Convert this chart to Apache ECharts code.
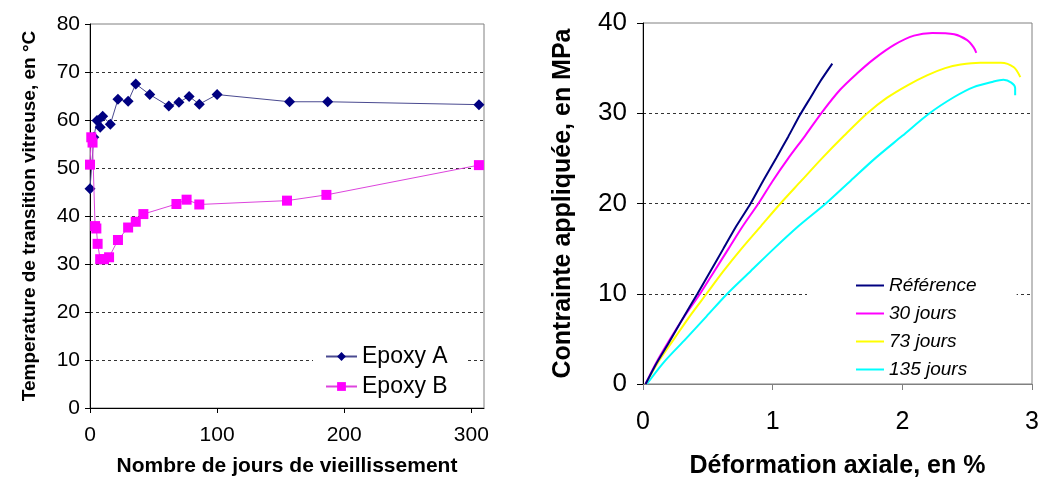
<!DOCTYPE html>
<html>
<head>
<meta charset="utf-8">
<script src="https://cdn.jsdelivr.net/npm/echarts@6/dist/echarts.min.js"></script>
<style>
    html, body { margin: 0; padding: 0; background: #fff; }
    #chart { width: 1047px; height: 478px; }
</style>
</head>
<body>
<div id="chart"></div>
<script>
// ---- left chart : Tg vs ageing days ----
const daysTicks = [0, 100, 200, 300];
const epoxyADays = [0, 3, 5.5, 8, 10, 16, 22, 30, 36, 47, 62, 70, 78, 86, 100, 157, 187, 306];
const epoxyATg = [45.7, 56.4, 59.9, 58.5, 60.8, 59.1, 64.3, 63.9, 67.5, 65.3, 62.9, 63.7, 64.9, 63.3, 65.3, 63.8, 63.8, 63.2];
const epoxyBDays = [0, 1, 2, 4, 5, 6, 8, 11, 15, 22, 30, 36, 42, 68, 76, 86, 155, 186, 306];
const epoxyBTg = [50.7, 56.4, 55.3, 37.9, 37.4, 34.2, 31.0, 31.0, 31.4, 35.0, 37.6, 38.8, 40.4, 42.5, 43.4, 42.4, 43.2, 44.4, 50.6];

// ---- right chart : stress / strain ----
const refStrain = [0.02, 0.1, 0.2, 0.3, 0.42, 0.52, 0.62, 0.72, 0.83, 0.93, 1.03, 1.12, 1.21, 1.29, 1.37, 1.46];
const refStress = [0, 2.2, 4.6, 7.1, 10, 12.5, 15, 17.5, 20, 22.6, 25.1, 27.4, 29.8, 31.7, 33.6, 35.5];
const j30Strain = [0.02, 0.1, 0.21, 0.32, 0.44, 0.55, 0.66, 0.77, 0.89, 1.0, 1.12, 1.25, 1.38, 1.52, 1.65, 1.78, 1.94, 2.09, 2.23, 2.4, 2.5, 2.55, 2.57];
const j30Stress = [0, 2.3, 5, 7.5, 10, 12.5, 15, 17.5, 20, 22.5, 25, 27.5, 30.1, 32.6, 34.4, 36.0, 37.6, 38.6, 38.9, 38.75, 38.1, 37.3, 36.7];
const j73Strain = [0.02, 0.12, 0.24, 0.36, 0.49, 0.62, 0.76, 0.91, 1.06, 1.22, 1.38, 1.55, 1.73, 1.88, 2.04, 2.19, 2.33, 2.45, 2.6, 2.76, 2.86, 2.91];
const j73Stress = [0, 2.5, 5, 7.5, 10, 12.5, 15, 17.5, 20, 22.5, 25, 27.5, 30, 31.7, 33.1, 34.2, 35.0, 35.4, 35.6, 35.6, 35.1, 34.0];
const j135Strain = [0.03, 0.16, 0.33, 0.49, 0.65, 0.83, 1.01, 1.2, 1.41, 1.6, 1.79, 2.0, 2.21, 2.4, 2.55, 2.7, 2.78, 2.84, 2.87, 2.87];
const j135Stress = [0, 2.4, 5, 7.5, 10, 12.5, 15, 17.5, 20, 22.5, 25, 27.5, 30, 31.8, 32.9, 33.5, 33.7, 33.4, 32.8, 32.0];

const zip = (xs, ys) => xs.map((x, i) => [x, ys[i]]);

const font = 'Liberation Sans, Arial, sans-serif';
const dash = [3, 3];

const chart = echarts.init(document.getElementById('chart'), null, { renderer: 'canvas' });

const option = {
    animation: false,
    backgroundColor: '#fff',
    textStyle: { fontFamily: font, color: '#000' },
    grid: [
        { left: 90, top: 24, width: 394, height: 384, outerBoundsMode: 'none', show: true, borderColor: '#808080', borderWidth: 1 },
        { left: 643, top: 23, width: 389, height: 361, outerBoundsMode: 'none', show: true, borderColor: '#808080', borderWidth: 1 }
    ],
    legend: [
        {
            orient: 'vertical',
            left: 313, top: 341,
            backgroundColor: '#fff',
            padding: [4, 18, 2, 12],
            itemWidth: 31, itemHeight: 11, itemGap: 7,
            textStyle: { fontSize: 23, color: '#000', fontFamily: font },
            data: ['Epoxy A', 'Epoxy B']
        },
        {
            orient: 'vertical',
            left: 807, top: 270,
            backgroundColor: '#fff',
            padding: [6, 40, 1, 48],
            itemWidth: 28, itemHeight: 8, itemGap: 9,
            itemStyle: { opacity: 0 },
            textStyle: { fontSize: 19, fontStyle: 'italic', color: '#000', fontFamily: font },
            data: ['Référence', '30 jours', '73 jours', '135 jours']
        }
    ],
    xAxis: [
        {
            gridIndex: 0, type: 'value', min: 0, max: 310,
            name: 'Nombre de jours de vieillissement',
            nameLocation: 'middle', nameGap: 48,
            nameTextStyle: { fontSize: 21, fontWeight: 'bold', color: '#000' },
            axisLine: { lineStyle: { color: '#000' } },
            axisTick: { show: true, length: 5, customValues: daysTicks, lineStyle: { color: '#000' } },
            axisLabel: { fontSize: 21, color: '#000', margin: 17, customValues: daysTicks },
            splitLine: { show: false }
        },
        {
            gridIndex: 1, type: 'value', min: 0, max: 3, interval: 1,
            name: 'Déformation axiale, en %',
            nameLocation: 'middle', nameGap: 70,
            nameTextStyle: { fontSize: 25, fontWeight: 'bold', color: '#000' },
            axisLine: { lineStyle: { color: '#808080' } },
            axisTick: { show: true, length: 6, lineStyle: { color: '#808080' } },
            axisLabel: { fontSize: 25, color: '#000', margin: 26 },
            splitLine: { show: false }
        }
    ],
    yAxis: [
        {
            gridIndex: 0, type: 'value', min: 0, max: 80, interval: 10,
            name: 'Temperature de transition vitreuse, en °C',
            nameLocation: 'middle', nameGap: 51,
            nameTextStyle: { fontSize: 19, fontWeight: 'bold', color: '#000' },
            axisLine: { show: true, lineStyle: { color: '#000' } },
            axisTick: { show: true, length: 5, lineStyle: { color: '#000' } },
            axisLabel: { fontSize: 21, color: '#000', margin: 10 },
            splitLine: {
                show: true,
                lineStyle: {
                    type: dash, width: 1,
                    color: ['transparent', '#333', '#333', '#333', '#333', '#333', '#333', '#333', 'transparent']
                }
            }
        },
        {
            gridIndex: 1, type: 'value', min: 0, max: 40, interval: 10,
            name: 'Contrainte appliquée, en MPa',
            nameLocation: 'middle', nameGap: 67,
            nameTextStyle: { fontSize: 25, fontWeight: 'bold', color: '#000' },
            axisLine: { show: true, lineStyle: { color: '#000' } },
            axisTick: { show: true, length: 6, lineStyle: { color: '#000' } },
            axisLabel: { fontSize: 26, color: '#000', margin: 16 },
            splitLine: {
                show: true,
                lineStyle: {
                    type: dash, width: 1,
                    color: ['transparent', '#333', '#333', '#333', 'transparent']
                }
            }
        }
    ],
    series: [
        {
            name: 'Epoxy A', type: 'line', xAxisIndex: 0, yAxisIndex: 0,
            data: zip(epoxyADays, epoxyATg),
            symbol: 'diamond', symbolSize: 11,
            itemStyle: { color: '#000080' },
            lineStyle: { color: '#4a4a90', width: 1 },
            z: 3
        },
        {
            name: 'Epoxy B', type: 'line', xAxisIndex: 0, yAxisIndex: 0,
            data: zip(epoxyBDays, epoxyBTg),
            symbol: 'rect', symbolSize: 10,
            itemStyle: { color: '#ff00ff' },
            lineStyle: { color: '#dd44dd', width: 1 },
            z: 4
        },
        {
            name: 'Référence', type: 'line', xAxisIndex: 1, yAxisIndex: 1,
            data: zip(refStrain, refStress), symbol: 'none', smooth: 0.2,
            lineStyle: { color: '#000080', width: 2 }, itemStyle: { color: '#000080' }, z: 6
        },
        {
            name: '30 jours', type: 'line', xAxisIndex: 1, yAxisIndex: 1,
            data: zip(j30Strain, j30Stress), symbol: 'none', smooth: 0.3,
            lineStyle: { color: '#ff00ff', width: 2 }, itemStyle: { color: '#ff00ff' }, z: 5
        },
        {
            name: '73 jours', type: 'line', xAxisIndex: 1, yAxisIndex: 1,
            data: zip(j73Strain, j73Stress), symbol: 'none', smooth: 0.3,
            lineStyle: { color: '#ffff00', width: 2 }, itemStyle: { color: '#ffff00' }, z: 4
        },
        {
            name: '135 jours', type: 'line', xAxisIndex: 1, yAxisIndex: 1,
            data: zip(j135Strain, j135Stress), symbol: 'none', smooth: 0.3,
            lineStyle: { color: '#00ffff', width: 2 }, itemStyle: { color: '#00ffff' }, z: 3
        }
    ]
};

chart.setOption(option);
</script>
</body>
</html>
